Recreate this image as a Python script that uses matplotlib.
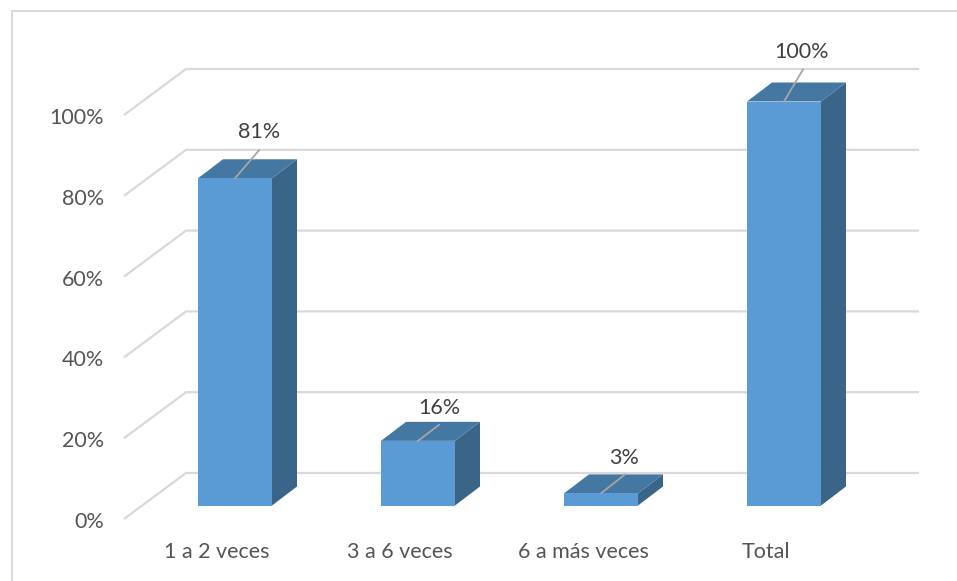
import matplotlib
matplotlib.use("Agg")
import matplotlib.pyplot as plt
from matplotlib.lines import Line2D
from matplotlib.patches import Polygon

categories = ["1 a 2 veces", "3 a 6 veces", "6 a más veces", "Total"]
values = [81, 16, 3, 100]
value_labels = ["81%", "16%", "3%", "100%"]
y_ticks = [0, 20, 40, 60, 80, 100]
y_tick_labels = ["0%", "20%", "40%", "60%", "80%", "100%"]

W, H = 957, 581
plt.rcParams["font.family"] = ["Lato", "DejaVu Sans"]
fig = plt.figure(figsize=(W / 100, H / 100), dpi=100, facecolor="white")

# frame of the chart area: only top and left edges are visible
fig.add_artist(Line2D([11.5 / W, 11.5 / W, 1], [0, (H - 10.5) / H, (H - 10.5) / H],
                      transform=fig.transFigure, color="#d9d9d9", lw=1.4))

# plot area: 0% at y=519, 100% at y=115 (px); x centres 235 + 183*i
PXY = 4.04
PXX = 183.0
left, right, y0, ytop = 124, 919, 519, 60
ax = fig.add_axes([left / W, (H - y0) / H, (right - left) / W, (y0 - ytop) / H])
ax.set_xlim((left - 235) / PXX, (right - 235) / PXX)
ax.set_ylim(0, (y0 - ytop) / PXY)
ax.axis("off")

px = lambda v: v / PXX
py = lambda v: v / PXY
FS = 15.5

# walls
wall_dx, wall_dy = px(62), py(46)
x_left, x_right = ax.get_xlim()
for t, lab in zip(y_ticks, y_tick_labels):
    ax.plot([x_left, x_left + wall_dx, x_right], [t, t + wall_dy, t + wall_dy],
            color="#d9d9d9", lw=1.6, solid_capstyle="butt", solid_joinstyle="miter",
            zorder=1, clip_on=False)
    ax.text(x_left - px(20), t + py(-3), lab, ha="right", va="center",
            fontsize=FS, color="#555555")

# bars
bw = px(74)
base = py(13.5)
dx, dy = px(25), py(19)
FRONT, TOP, SIDE = "#5b9bd5", "#4577a3", "#3a6488"
# label placement relative to the bar's top-front centre, in pixels
label_offset = [(24, 46), (21, 33), (23, 35), (18, 49)]
leader_end = [(24, 28), (21, 16), (24, 19), (19, 32)]
for i, (v, lab, cat) in enumerate(zip(values, value_labels, categories)):
    x0, x1 = i - bw / 2, i + bw / 2
    yb = base
    yt = base + v
    ax.add_patch(Polygon([(x1, yb), (x1 + dx, yb + dy), (x1 + dx, yt + dy), (x1, yt)],
                         fc=SIDE, ec="none", zorder=3))
    ax.add_patch(Polygon([(x0, yt), (x1, yt), (x1 + dx, yt + dy), (x0 + dx, yt + dy)],
                         fc=TOP, ec="none", zorder=3))
    ax.add_patch(Polygon([(x0, yb), (x1, yb), (x1, yt), (x0, yt)],
                         fc=FRONT, ec="none", zorder=4))
    lx, ly = leader_end[i]
    ax.plot([i, i + px(lx)], [yt, yt + py(ly)], color="#a6a6a6", lw=1.3, zorder=5)
    ox, oy = label_offset[i]
    ax.text(i + px(ox), yt + py(oy), lab, ha="center", va="center",
            fontsize=FS, color="#404040", zorder=6)
    ax.text(i - px(18), py(-33), cat, ha="center", va="center",
            fontsize=FS, color="#555555", clip_on=False)

fig.savefig("out.png", dpi=100, facecolor="white")
